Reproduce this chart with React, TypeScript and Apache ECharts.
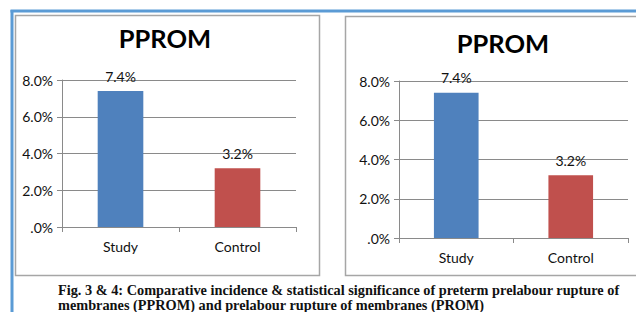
import React, { useEffect, useRef } from "react";
import * as echarts from "echarts";

const categories = ["Study", "Control"];
const leftValues = [7.4, 3.2];
const rightValues = [7.4, 3.2];
const barColors = ["#4F81BD", "#C0504D"];
const yTicks = { min: 0, max: 8, interval: 2 };
const chartTitles = ["PPROM", "PPROM"];
const captionLines = [
  "Fig. 3 & 4: Comparative incidence & statistical significance of preterm prelabour rupture of",
  "membranes (PPROM) and prelabour rupture of membranes (PROM)",
];

const FONT = "Lato, 'Open Sans', sans-serif";
const GRID_COLOR = "#8a8a8a";

function fmtPct(v: number) {
  return v === 0 ? ".0%" : v.toFixed(1) + "%";
}

export default function App() {
  const ref = useRef<HTMLDivElement>(null);
  useEffect(() => {
    if (!ref.current) return;
    const chart = echarts.init(ref.current, undefined, { renderer: "svg" });
    const mkX = (gi: number) => ({
      type: "category",
      gridIndex: gi,
      data: categories,
      axisLine: { lineStyle: { color: GRID_COLOR, width: 1 } },
      axisTick: { show: true, length: 5, lineStyle: { color: GRID_COLOR } },
      axisLabel: { color: "#111", fontSize: 14, fontFamily: FONT, margin: 12 },
    });
    const mkY = (gi: number) => ({
      type: "value",
      gridIndex: gi,
      min: yTicks.min,
      max: yTicks.max,
      interval: yTicks.interval,
      axisLine: { show: true, lineStyle: { color: GRID_COLOR, width: 1 } },
      axisTick: { show: true, length: 5, lineStyle: { color: GRID_COLOR } },
      splitLine: { show: true, lineStyle: { color: GRID_COLOR, width: 1 } },
      axisLabel: {
        color: "#111",
        fontSize: 14,
        fontFamily: FONT,
        margin: 9,
        formatter: (v: number) => fmtPct(v),
      },
    });
    const mkSeries = (gi: number, vals: number[]) => ({
      type: "bar",
      xAxisIndex: gi,
      yAxisIndex: gi,
      barWidth: "39%",
      data: vals.map((v, i) => ({ value: v, itemStyle: { color: barColors[i] } })),
      label: {
        show: true,
        position: "top",
        distance: 8,
        color: "#111",
        fontSize: 14,
        fontFamily: FONT,
        formatter: (p: any) => fmtPct(p.value),
      },
    });
    const captionFont = "bold 14.3px 'Liberation Serif', 'DejaVu Serif', serif";
    chart.setOption({
      animation: false,
      title: [
        {
          text: chartTitles[0],
          left: 160,
          top: 20,
          textAlign: "center",
          textStyle: { fontSize: 25.5, fontWeight: "bold", fontFamily: FONT, color: "#000" },
        },
        {
          text: chartTitles[1],
          left: 498,
          top: 25,
          textAlign: "center",
          textStyle: { fontSize: 25.5, fontWeight: "bold", fontFamily: FONT, color: "#000" },
        },
      ],
      grid: [
        { left: 62, top: 80, width: 234, height: 147 },
        { left: 399, top: 81, width: 229, height: 157 },
      ],
      xAxis: [mkX(0), mkX(1)],
      yAxis: [mkY(0), mkY(1)],
      series: [mkSeries(0, leftValues), mkSeries(1, rightValues)],
      graphic: [
        {
          type: "rect",
          z: -10,
          silent: true,
          shape: { x: 15.5, y: 15.5, width: 304, height: 260 },
          style: { fill: "#fff", stroke: "#a6a6a6", lineWidth: 1.5 },
        },
        {
          type: "rect",
          z: -10,
          silent: true,
          shape: { x: 345.5, y: 16.5, width: 310, height: 259 },
          style: { fill: "#fff", stroke: "#a6a6a6", lineWidth: 1.5 },
        },
        {
          type: "line",
          silent: true,
          shape: { x1: 12, y1: 10, x2: 12, y2: 312 },
          style: { stroke: "#5b9bd5", lineWidth: 3 },
        },
        {
          type: "line",
          silent: true,
          shape: { x1: 10.5, y1: 11, x2: 636, y2: 11 },
          style: { stroke: "#5b9bd5", lineWidth: 3 },
        },
        {
          type: "text",
          silent: true,
          x: 58,
          y: 290,
          style: {
            text: captionLines[0],
            font: captionFont,
            lineHeight: 14,
            fill: "#111",
            verticalAlign: "middle",
          },
        },
        {
          type: "text",
          silent: true,
          x: 58,
          y: 305,
          style: {
            text: captionLines[1],
            font: captionFont,
            lineHeight: 14,
            fill: "#111",
            verticalAlign: "middle",
          },
        },
      ],
    });
    return () => chart.dispose();
  }, []);
  return (
    <div
      ref={ref}
      style={{ position: "fixed", left: 0, top: 0, width: 636, height: 312, background: "#fff" }}
    />
  );
}
